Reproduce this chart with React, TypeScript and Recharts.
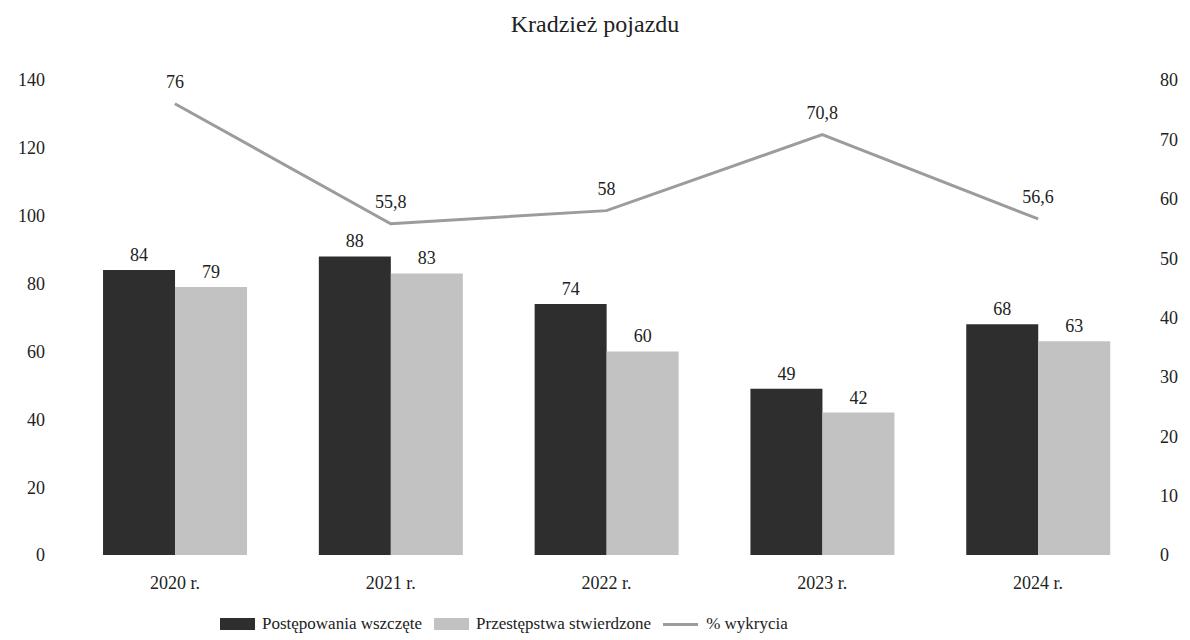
import { Bar, ComposedChart, LabelList, Legend, Line, XAxis, YAxis } from 'recharts';

const years = ['2020 r.', '2021 r.', '2022 r.', '2023 r.', '2024 r.'];
const initiated = [84, 88, 74, 49, 68];
const confirmed = [79, 83, 60, 42, 63];
const detection = [76, 55.8, 58, 70.8, 56.6];
const leftTicks = [0, 20, 40, 60, 80, 100, 120, 140];
const rightTicks = [0, 10, 20, 30, 40, 50, 60, 70, 80];

const data = years.map((year, i) => ({
  year,
  initiated: initiated[i],
  confirmed: confirmed[i],
  detection: detection[i]
}));

const FONT = '"Liberation Serif", "Times New Roman", serif';
const DARK = '#2e2e2e';
const LIGHT = '#c2c2c2';
const LINE = '#9c9c9c';

const tickStyle = { fill: '#222', fontSize: 18, fontFamily: FONT };

function LegendBox() {
  const item = { display: 'flex', alignItems: 'center', marginRight: 12 };
  const text = { fontSize: 17, color: '#222', fontFamily: FONT };
  return (
    <div style={{ display: 'flex', alignItems: 'center', paddingLeft: 220, height: 32 }}>
      <div style={item}>
        <span style={{ width: 35, height: 12, background: DARK, marginRight: 7 }} />
        <span style={text}>Postępowania wszczęte</span>
      </div>
      <div style={item}>
        <span style={{ width: 35, height: 12, background: LIGHT, marginRight: 7 }} />
        <span style={text}>Przestępstwa stwierdzone</span>
      </div>
      <div style={item}>
        <span style={{ width: 35, height: 3, background: LINE, marginRight: 8 }} />
        <span style={text}>% wykrycia</span>
      </div>
    </div>
  );
}

const fmt = (v: number) => String(v).replace('.', ',');

export default function App() {
  return (
    <div style={{ position: 'relative', width: 1190, height: 640, background: '#fff', fontFamily: FONT }}>
      <style>{'body{margin:0}'}</style>
      <div
        style={{
          position: 'absolute',
          top: 11,
          left: 0,
          width: 1190,
          textAlign: 'center',
          fontSize: 24,
          color: '#222'
        }}
      >
        Kradzież pojazdu
      </div>
      <ComposedChart
        width={1190}
        height={640}
        data={data}
        margin={{ top: 80, right: 0, bottom: 0, left: 0 }}
        barCategoryGap="16.7%"
        barGap={0}
      >
        <XAxis
          dataKey="year"
          axisLine={false}
          tickLine={false}
          tickSize={0}
          tickMargin={21}
          height={53}
          tick={tickStyle}
        />
        <YAxis
          yAxisId="left"
          domain={[0, 140]}
          ticks={leftTicks}
          axisLine={false}
          tickLine={false}
          tickSize={0}
          tickMargin={22}
          width={67}
          tick={tickStyle}
        />
        <YAxis
          yAxisId="right"
          orientation="right"
          domain={[0, 80]}
          ticks={rightTicks}
          axisLine={false}
          tickLine={false}
          tickSize={0}
          tickMargin={14}
          width={44}
          tick={tickStyle}
        />
        <Legend verticalAlign="bottom" content={<LegendBox />} />
        <Bar yAxisId="left" dataKey="initiated" fill={DARK} isAnimationActive={false}>
          <LabelList dataKey="initiated" position="top" offset={9} style={tickStyle} />
        </Bar>
        <Bar yAxisId="left" dataKey="confirmed" fill={LIGHT} isAnimationActive={false}>
          <LabelList dataKey="confirmed" position="top" offset={9} style={tickStyle} />
        </Bar>
        <Line
          yAxisId="right"
          dataKey="detection"
          stroke={LINE}
          strokeWidth={3}
          dot={false}
          type="linear"
          isAnimationActive={false}
        >
          <LabelList dataKey="detection" position="top" offset={16} formatter={fmt} style={tickStyle} />
        </Line>
      </ComposedChart>
    </div>
  );
}
